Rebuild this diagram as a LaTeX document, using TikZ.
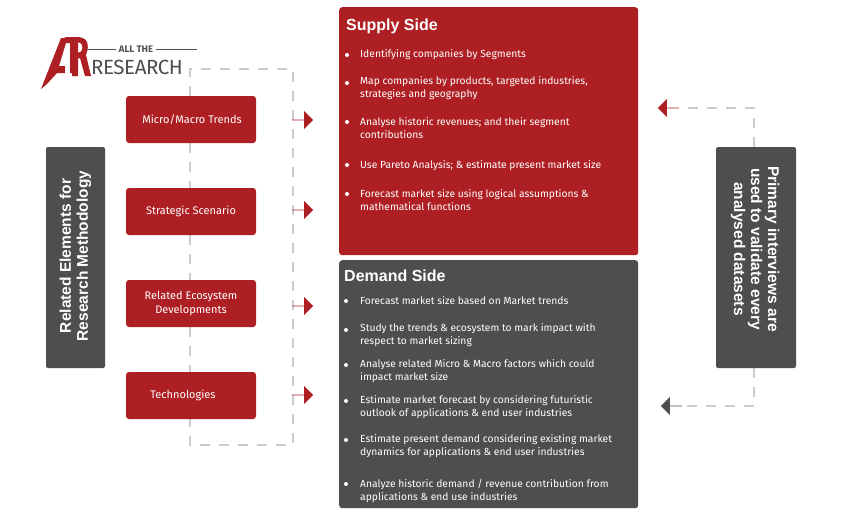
\documentclass[tikz,border=0pt]{standalone}
\usepackage{fontspec}
\setmainfont{Fira Sans}
\newfontfamily\headfont{Liberation Sans}
\usetikzlibrary{shapes.arrows,backgrounds}
\definecolor{brandred}{HTML}{AE1F24}
\definecolor{slate}{HTML}{4D4E4D}
\definecolor{dashgrey}{HTML}{CCCCCC}
\tikzset{
  x=1pt,y=-1pt,
  panel/.style={fill=#1,rounded corners=3pt,draw=none,inner sep=0pt,minimum width=0pt},
  topic/.style={fill=brandred,rounded corners=3pt,minimum width=130pt,minimum height=47pt,inner sep=0pt,text=white,align=center,font=\fontsize{11}{14.5}\selectfont},
  sidehead/.style={text=white,align=center,font=\headfont\bfseries\fontsize{15.5}{17}\selectfont},
  title/.style={text=white,anchor=west,inner sep=0pt,font=\headfont\bfseries\fontsize{16}{18}\selectfont},
  item/.style={text=white,anchor=west,inner sep=0pt,align=left,font=\fontsize{10.3}{13}\selectfont},
  dot/.style={circle,fill=white,inner sep=0pt,minimum size=4pt},
  guide/.style={draw=dashgrey,line width=2.6pt,dash pattern=on 10pt off 9pt},
  pointer/.style={single arrow,fill=#1,draw=none,inner sep=0pt,single arrow head extend=4pt,single arrow tip angle=90,minimum height=21pt,minimum width=18pt}
}
\begin{document}
\begin{tikzpicture}
\useasboundingbox (0,0) rectangle (861,515);

% Side captions
\node[fill=slate,rounded corners=2pt,minimum width=59pt,minimum height=221pt,inner sep=0pt] (left) at (75.5,257.5) {};
\node[sidehead,rotate=90] (lefttext) at (75.5,256) {Related Elements for\\Research Methodology};
\node[fill=slate,rounded corners=2pt,minimum width=80pt,minimum height=221pt,inner sep=0pt] (right) at (756,257.5) {};
\node[sidehead,rotate=-90] (righttext) at (755,249) {Primary interviews are\\used to validate every\\analysed datasets};

% Topic boxes
\node[topic] (micro) at (191,119.5) {\hspace*{2pt}Micro/Macro Trends};
\node[topic] (strategic) at (191,211.5) {Strategic Scenario};
\node[topic] (ecosystem) at (191,303.5) {Related Ecosystem\\Developments};
\node[topic] (tech) at (191,395.5) {\hspace*{-16pt}Technologies};

% Pointers out of the topic column
\node[pointer=brandred] (a1) at (302.5,120) {};
\node[pointer=brandred] (a2) at (302.5,210) {};
\node[pointer=brandred] (a3) at (302.5,306) {};
\node[pointer=brandred] (a4) at (302.5,395) {};

% Pointers from the primary interviews caption
\node[pointer=brandred,shape border rotate=180] (b1) at (668.5,108) {};
\node[pointer=slate,shape border rotate=180] (b2) at (671.5,406) {};

% Dashed frame corners
\coordinate (tl) at (190,69);
\coordinate (tr) at (293,69);
\coordinate (bl) at (190,445);
\coordinate (br) at (293,445);
\coordinate (rt) at (754,108);
\coordinate (rb) at (754,406);

\begin{scope}[on background layer]
  \draw[guide] (micro.north -| tl) -- (tl) -- (tr) -- (br) -- (bl) -- (tech.south -| bl);
  \draw[guide] (micro.south -| tl) -- (strategic.north -| tl);
  \draw[guide] (strategic.south -| tl) -- (ecosystem.north -| tl);
  \draw[guide] (ecosystem.south -| tl) -- (tech.north -| tl);
  \draw[guide] (right.north -| rt) -- (rt) -- (b1.east);
  \draw[guide] (right.south -| rb) -- (rb) -- (b2.east);
\end{scope}

% Supply panel
\node[panel=brandred,minimum width=299pt,minimum height=248pt,anchor=north west] (supply) at (339,7) {};
\node[title] (supplyhead) at (346,26) {Supply Side};
\foreach \n/\y in {s1/55,s2/83,s3/122,s4/165,s5/194} \node[dot] (\n) at (347,\y) {};
\node[item] (st1) at (360,55) {Identifying companies by Segments};
\node[item] (st2) at (360,88.5) {Map companies by products, targeted industries,\\strategies and geography};
\node[item] (st3) at (360,128.5) {Analyse historic revenues; and their segment\\contributions};
\node[item] (st4) at (360,166) {Use Pareto Analysis; \& estimate present market size};
\node[item] (st5) at (360,200.5) {Forecast market size using logical assumptions \&\\mathematical functions};

% Demand panel
\node[panel=slate,minimum width=299pt,minimum height=248pt,anchor=north west] (demand) at (339,260) {};
\node[title] (demandhead) at (344,276) {Demand Side};
\foreach \n/\y in {d1/301,d2/330,d3/365,d4/401,d5/440,d6/484} \node[dot] (\n) at (346,\y) {};
\node[item] (dt1) at (360,301) {Forecast market size based on Market trends};
\node[item] (dt2) at (360,335.5) {Study the trends \& ecosystem to mark impact with\\respect to market sizing};
\node[item] (dt3) at (360,371.5) {Analyse related Micro \& Macro factors which could\\impact market size};
\node[item] (dt4) at (360,407.5) {Estimate market forecast by considering futuristic\\outlook of applications \& end user industries};
\node[item] (dt5) at (360,446.5) {Estimate present demand considering existing market\\dynamics for applications \& end user industries};
\node[item] (dt6) at (360,490.5) {Analyze historic demand / revenue contribution from\\applications \& end use industries};

% Logo
\fill[brandred] (41,89) -- (61,38) -- (64,38) -- (66,37) -- (77,37) -- (77,73) -- (70,73) -- (70,43) -- (66,43) -- (59,66) -- (65,66) -- (65,73) -- (57,73) -- (47,84) -- cycle;
\fill[brandred,even odd rule] (72,38) -- (72,76) -- (76,76) -- (76,58) -- (80,58) -- (74,40) -- cycle;
\fill[brandred,even odd rule] (74,37) .. controls (88,36) and (90,44) .. (86,55) -- (91,76) -- (85,76) -- (80,58) -- (78,58) -- (78,76) -- (74,76) -- cycle (78,42) -- (78,53) .. controls (84,53) and (84,42) .. (78,42) -- cycle;
\draw[slate,line width=0.7pt] (87,49) -- (116,49) (156,49) -- (197,49);
\node[text=slate,inner sep=0pt,font=\fontsize{9.5}{10}\selectfont\bfseries] (allthe) at (136,49) {ALL THE};
\node[text=slate,inner sep=0pt,font=\fontsize{20.5}{22}\selectfont\addfontfeature{LetterSpace=-2}] (research) at (137,67.5) {RESEARCH};
\end{tikzpicture}
\end{document}
